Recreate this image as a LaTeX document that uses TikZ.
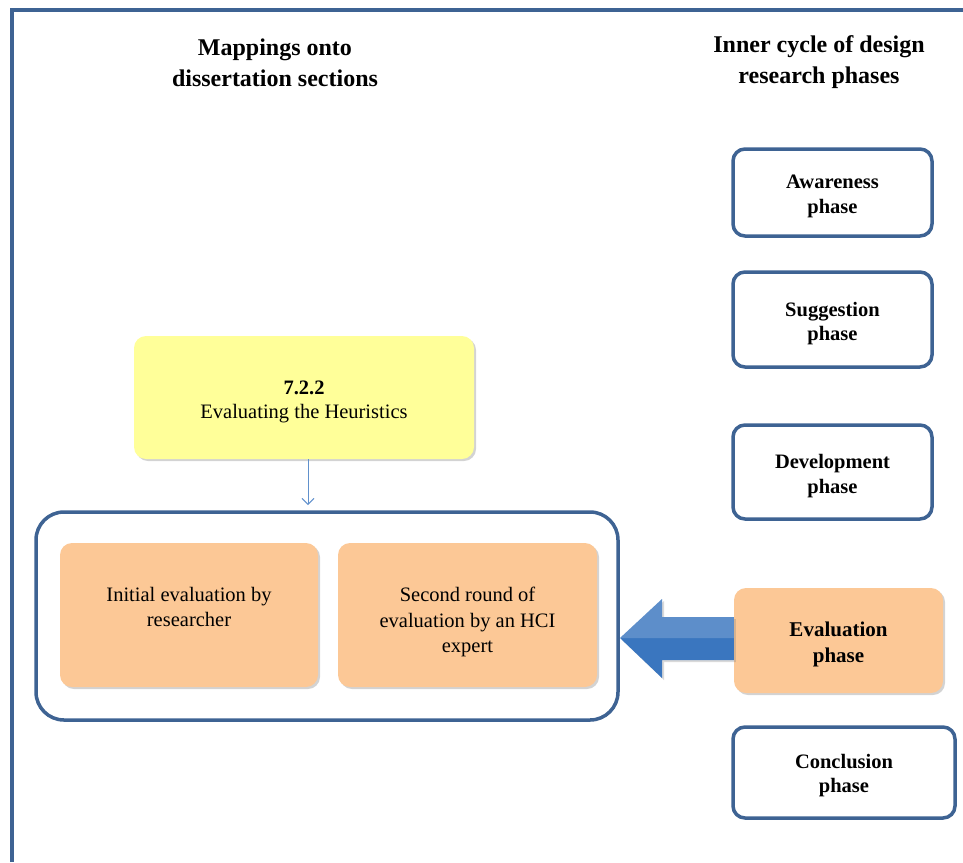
\documentclass[tikz,border=0pt]{standalone}
\usepackage{fontspec}
\setmainfont{Liberation Serif}
\usetikzlibrary{shadows,shapes.arrows,arrows.meta}
\definecolor{frameblue}{HTML}{3E6393}
\definecolor{peach}{HTML}{FCC896}
\definecolor{lightyellow}{HTML}{FFFF99}
\definecolor{arrowblue}{HTML}{3A76BF}
\tikzset{
  phasebox/.style={draw=frameblue, line width=3.5pt, rounded corners=12pt, fill=white},
  evalbox/.style={draw=none, rounded corners=12pt, fill=peach, drop shadow={shadow xshift=2pt,shadow yshift=-2pt,opacity=0.35}},
  phasetext/.style={align=center, font=\bfseries\fontsize{20.5}{24.5}\selectfont},
  plaintext/.style={align=center, font=\fontsize{20.5}{25.5}\selectfont},
  titletext/.style={align=center, font=\bfseries\fontsize{24}{31}\selectfont},
}
\begin{document}
\begin{tikzpicture}[x=1pt,y=-1pt]
\useasboundingbox (0,0) rectangle (963,862);
% frame
\coordinate (fb) at (12,862);
\coordinate (ftl) at (12,10);
\coordinate (fr) at (963,10);
\draw[frameblue, line width=4pt] (fb) -- (ftl) -- (fr);
% titles
\node[titletext] (t1) at (275,63) {Mappings onto\\dissertation sections};
\node[titletext] (t2) at (819,62) {Inner cycle of design\\research phases};
% phase boxes
\node[phasebox, minimum width=199pt, minimum height=87pt] (aw) at (832.5,192.5) {};
\node[phasetext] (awt) at ([yshift=-4pt]aw.center) {Awareness\\phase};
\node[phasebox, minimum width=199pt, minimum height=95pt] (su) at (832.5,319.5) {};
\node[phasetext] (sut) at ([yshift=-4pt]su.center) {Suggestion\\phase};
\node[phasebox, minimum width=199pt, minimum height=94pt] (de) at (832.5,472) {};
\node[phasetext] (det) at ([yshift=-4pt]de.center) {Development\\phase};
\node[evalbox, minimum width=209pt, minimum height=105pt] (ev) at (838.5,640.5) {};
\node[phasetext, font=\bfseries\fontsize{21}{26}\selectfont] (evt) at ([yshift=-4pt]ev.center) {Evaluation\\phase};
\node[phasebox, minimum width=222pt, minimum height=91pt] (co) at (844,772.5) {};
\node[phasetext] (cot) at ([yshift=-3pt]co.center) {Conclusion\\phase};
% yellow box
\node[evalbox, fill=lightyellow, minimum width=340pt, minimum height=123pt] (yb) at (304,397.5) {};
\node[plaintext, font=\fontsize{20.5}{24}\selectfont] (ybt) at ([yshift=-4pt]yb.center) {\textbf{7.2.2}\\Evaluating the Heuristics};
% group box
\node[draw=frameblue, line width=3.5pt, rounded corners=28pt, minimum width=582pt, minimum height=208pt] (grp) at (327,616) {};
\node[evalbox, minimum width=258pt, minimum height=144pt] (ie) at (189,615) {};
\node[plaintext, font=\fontsize{20.5}{25}\selectfont] (iet) at ([yshift=8pt]ie.center) {Initial evaluation by\\researcher};
\node[evalbox, minimum width=259pt, minimum height=144pt] (sr) at (467.5,615) {};
\node[plaintext] (srt) at ([yshift=-7pt]sr.center) {Second round of\\evaluation by an HCI\\expert};
% small arrow
\draw[-{Straight Barb[length=6pt,width=12pt]}, arrowblue!80, line width=0.9pt] (yb.south -| 308,0) -- (308,505);
% big arrow
\coordinate (tip) at (620,638);
\fill[arrowblue, drop shadow={shadow xshift=2pt,shadow yshift=-2pt,opacity=0.3}]
  (ev.west |- 0,617) -- (662,617) -- (662,599) -- (tip) -- (662,678) -- (662,660) -- (ev.west |- 0,660) -- cycle;
\fill[white, opacity=0.18] (ev.west |- 0,617) -- (662,617) -- (662,599) -- (tip) -- (ev.west |- 0,638) -- cycle;
\end{tikzpicture}
\end{document}
